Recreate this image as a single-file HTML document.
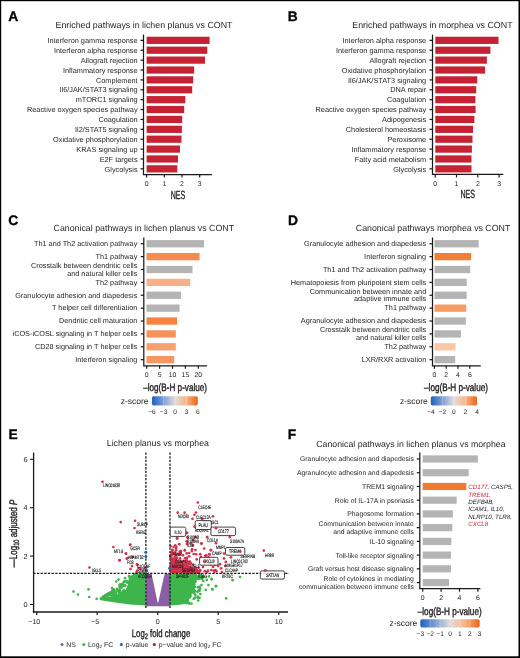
<!DOCTYPE html><html><head><meta charset="utf-8"><style>html,body{margin:0;padding:0;background:#fff;}svg{display:block;will-change:transform;} text{text-rendering:geometricPrecision;}</style></head><body>
<svg width="520" height="658" viewBox="0 0 520 658" font-family="'Liberation Sans', sans-serif">
<rect x="0.00" y="0.00" width="520.00" height="658.00" fill="#000" />
<rect x="1.20" y="1.20" width="517.30" height="655.10" fill="#fff" />
<text x="8.20" y="21.20" font-size="13.8" text-anchor="start" fill="#000" font-weight="bold" font-style="normal" stroke="#000" stroke-width="0.3">A</text>
<text x="55.50" y="28.00" font-size="8.85" text-anchor="start" fill="#231f20" font-weight="normal" font-style="normal" >Enriched pathways in lichen planus vs CONT</text>
<line x1="143.50" y1="34.60" x2="143.50" y2="174.60" stroke="#1a1a1a" stroke-width="1.25" />
<line x1="142.90" y1="174.60" x2="211.90" y2="174.60" stroke="#1a1a1a" stroke-width="1.25" />
<rect x="146.60" y="36.75" width="63.00" height="7.20" fill="#c52233" />
<line x1="140.50" y1="40.35" x2="143.50" y2="40.35" stroke="#1a1a1a" stroke-width="1.25" />
<text x="137.60" y="43.00" font-size="7.35" text-anchor="end" fill="#231f20" font-weight="normal" font-style="normal" >Interferon gamma response</text>
<rect x="146.60" y="46.63" width="60.70" height="7.20" fill="#c52233" />
<line x1="140.50" y1="50.23" x2="143.50" y2="50.23" stroke="#1a1a1a" stroke-width="1.25" />
<text x="137.60" y="52.88" font-size="7.35" text-anchor="end" fill="#231f20" font-weight="normal" font-style="normal" >Interferon alpha response</text>
<rect x="146.60" y="56.52" width="58.40" height="7.20" fill="#c52233" />
<line x1="140.50" y1="60.12" x2="143.50" y2="60.12" stroke="#1a1a1a" stroke-width="1.25" />
<text x="137.60" y="62.77" font-size="7.35" text-anchor="end" fill="#231f20" font-weight="normal" font-style="normal" >Allograft rejection</text>
<rect x="146.60" y="66.41" width="47.60" height="7.20" fill="#c52233" />
<line x1="140.50" y1="70.00" x2="143.50" y2="70.00" stroke="#1a1a1a" stroke-width="1.25" />
<text x="137.60" y="72.65" font-size="7.35" text-anchor="end" fill="#231f20" font-weight="normal" font-style="normal" >Inflammatory response</text>
<rect x="146.60" y="76.29" width="46.60" height="7.20" fill="#c52233" />
<line x1="140.50" y1="79.89" x2="143.50" y2="79.89" stroke="#1a1a1a" stroke-width="1.25" />
<text x="137.60" y="82.54" font-size="7.35" text-anchor="end" fill="#231f20" font-weight="normal" font-style="normal" >Complement</text>
<rect x="146.60" y="86.17" width="45.60" height="7.20" fill="#c52233" />
<line x1="140.50" y1="89.77" x2="143.50" y2="89.77" stroke="#1a1a1a" stroke-width="1.25" />
<text x="137.60" y="92.42" font-size="7.35" text-anchor="end" fill="#231f20" font-weight="normal" font-style="normal" >Il6/JAK/STAT3 signaling</text>
<rect x="146.60" y="96.06" width="38.70" height="7.20" fill="#c52233" />
<line x1="140.50" y1="99.66" x2="143.50" y2="99.66" stroke="#1a1a1a" stroke-width="1.25" />
<text x="137.60" y="102.31" font-size="7.35" text-anchor="end" fill="#231f20" font-weight="normal" font-style="normal" >mTORC1 signaling</text>
<rect x="146.60" y="105.94" width="37.60" height="7.20" fill="#c52233" />
<line x1="140.50" y1="109.54" x2="143.50" y2="109.54" stroke="#1a1a1a" stroke-width="1.25" />
<text x="137.60" y="112.19" font-size="7.35" text-anchor="end" fill="#231f20" font-weight="normal" font-style="normal" >Reactive oxygen species pathway</text>
<rect x="146.60" y="115.83" width="35.60" height="7.20" fill="#c52233" />
<line x1="140.50" y1="119.43" x2="143.50" y2="119.43" stroke="#1a1a1a" stroke-width="1.25" />
<text x="137.60" y="122.08" font-size="7.35" text-anchor="end" fill="#231f20" font-weight="normal" font-style="normal" >Coagulation</text>
<rect x="146.60" y="125.72" width="35.30" height="7.20" fill="#c52233" />
<line x1="140.50" y1="129.31" x2="143.50" y2="129.31" stroke="#1a1a1a" stroke-width="1.25" />
<text x="137.60" y="131.96" font-size="7.35" text-anchor="end" fill="#231f20" font-weight="normal" font-style="normal" >Il2/STAT5 signaling</text>
<rect x="146.60" y="135.60" width="34.90" height="7.20" fill="#c52233" />
<line x1="140.50" y1="139.20" x2="143.50" y2="139.20" stroke="#1a1a1a" stroke-width="1.25" />
<text x="137.60" y="141.85" font-size="7.35" text-anchor="end" fill="#231f20" font-weight="normal" font-style="normal" >Oxidative phosphorylation</text>
<rect x="146.60" y="145.49" width="33.40" height="7.20" fill="#c52233" />
<line x1="140.50" y1="149.09" x2="143.50" y2="149.09" stroke="#1a1a1a" stroke-width="1.25" />
<text x="137.60" y="151.73" font-size="7.35" text-anchor="end" fill="#231f20" font-weight="normal" font-style="normal" >KRAS signaling up</text>
<rect x="146.60" y="155.37" width="31.40" height="7.20" fill="#c52233" />
<line x1="140.50" y1="158.97" x2="143.50" y2="158.97" stroke="#1a1a1a" stroke-width="1.25" />
<text x="137.60" y="161.62" font-size="7.35" text-anchor="end" fill="#231f20" font-weight="normal" font-style="normal" >E2F targets</text>
<rect x="146.60" y="165.25" width="30.70" height="7.20" fill="#c52233" />
<line x1="140.50" y1="168.85" x2="143.50" y2="168.85" stroke="#1a1a1a" stroke-width="1.25" />
<text x="137.60" y="171.50" font-size="7.35" text-anchor="end" fill="#231f20" font-weight="normal" font-style="normal" >Glycolysis</text>
<line x1="146.60" y1="174.60" x2="146.60" y2="177.60" stroke="#1a1a1a" stroke-width="1.2" />
<text x="146.60" y="186.28" font-size="6.9" text-anchor="middle" fill="#231f20" font-weight="normal" font-style="normal" >0</text>
<line x1="164.30" y1="174.60" x2="164.30" y2="177.60" stroke="#1a1a1a" stroke-width="1.2" />
<text x="164.30" y="186.28" font-size="6.9" text-anchor="middle" fill="#231f20" font-weight="normal" font-style="normal" >1</text>
<line x1="182.00" y1="174.60" x2="182.00" y2="177.60" stroke="#1a1a1a" stroke-width="1.2" />
<text x="182.00" y="186.28" font-size="6.9" text-anchor="middle" fill="#231f20" font-weight="normal" font-style="normal" >2</text>
<line x1="199.70" y1="174.60" x2="199.70" y2="177.60" stroke="#1a1a1a" stroke-width="1.2" />
<text x="199.70" y="186.28" font-size="6.9" text-anchor="middle" fill="#231f20" font-weight="normal" font-style="normal" >3</text>
<g transform="translate(178.00,194.30) scale(0.6,1)"><text x="0" y="4.25" font-size="11.8" text-anchor="middle" fill="#231f20" font-weight="normal" stroke="#231f20" stroke-width="0.4">NES</text></g>
<text x="287.80" y="21.10" font-size="13.8" text-anchor="start" fill="#000" font-weight="bold" font-style="normal" stroke="#000" stroke-width="0.3">B</text>
<text x="352.30" y="28.00" font-size="8.85" text-anchor="start" fill="#231f20" font-weight="normal" font-style="normal" >Enriched pathways in morphea vs CONT</text>
<line x1="432.50" y1="34.60" x2="432.50" y2="174.40" stroke="#1a1a1a" stroke-width="1.25" />
<line x1="431.90" y1="174.40" x2="503.30" y2="174.40" stroke="#1a1a1a" stroke-width="1.25" />
<rect x="435.30" y="36.75" width="63.20" height="7.20" fill="#c52233" />
<line x1="429.50" y1="40.35" x2="432.50" y2="40.35" stroke="#1a1a1a" stroke-width="1.25" />
<text x="426.20" y="43.00" font-size="7.35" text-anchor="end" fill="#231f20" font-weight="normal" font-style="normal" >Interferon alpha response</text>
<rect x="435.30" y="46.63" width="55.10" height="7.20" fill="#c52233" />
<line x1="429.50" y1="50.23" x2="432.50" y2="50.23" stroke="#1a1a1a" stroke-width="1.25" />
<text x="426.20" y="52.88" font-size="7.35" text-anchor="end" fill="#231f20" font-weight="normal" font-style="normal" >Interferon gamma response</text>
<rect x="435.30" y="56.52" width="51.60" height="7.20" fill="#c52233" />
<line x1="429.50" y1="60.12" x2="432.50" y2="60.12" stroke="#1a1a1a" stroke-width="1.25" />
<text x="426.20" y="62.77" font-size="7.35" text-anchor="end" fill="#231f20" font-weight="normal" font-style="normal" >Allograft rejection</text>
<rect x="435.30" y="66.41" width="49.70" height="7.20" fill="#c52233" />
<line x1="429.50" y1="70.00" x2="432.50" y2="70.00" stroke="#1a1a1a" stroke-width="1.25" />
<text x="426.20" y="72.65" font-size="7.35" text-anchor="end" fill="#231f20" font-weight="normal" font-style="normal" >Oxidative phosphorylation</text>
<rect x="435.30" y="76.29" width="42.00" height="7.20" fill="#c52233" />
<line x1="429.50" y1="79.89" x2="432.50" y2="79.89" stroke="#1a1a1a" stroke-width="1.25" />
<text x="426.20" y="82.54" font-size="7.35" text-anchor="end" fill="#231f20" font-weight="normal" font-style="normal" >Il6/JAK/STAT3 signaling</text>
<rect x="435.30" y="86.17" width="40.90" height="7.20" fill="#c52233" />
<line x1="429.50" y1="89.77" x2="432.50" y2="89.77" stroke="#1a1a1a" stroke-width="1.25" />
<text x="426.20" y="92.42" font-size="7.35" text-anchor="end" fill="#231f20" font-weight="normal" font-style="normal" >DNA repair</text>
<rect x="435.30" y="96.06" width="40.10" height="7.20" fill="#c52233" />
<line x1="429.50" y1="99.66" x2="432.50" y2="99.66" stroke="#1a1a1a" stroke-width="1.25" />
<text x="426.20" y="102.31" font-size="7.35" text-anchor="end" fill="#231f20" font-weight="normal" font-style="normal" >Coagulation</text>
<rect x="435.30" y="105.94" width="40.30" height="7.20" fill="#c52233" />
<line x1="429.50" y1="109.54" x2="432.50" y2="109.54" stroke="#1a1a1a" stroke-width="1.25" />
<text x="426.20" y="112.19" font-size="7.35" text-anchor="end" fill="#231f20" font-weight="normal" font-style="normal" >Reactive oxygen species pathway</text>
<rect x="435.30" y="115.83" width="39.10" height="7.20" fill="#c52233" />
<line x1="429.50" y1="119.43" x2="432.50" y2="119.43" stroke="#1a1a1a" stroke-width="1.25" />
<text x="426.20" y="122.08" font-size="7.35" text-anchor="end" fill="#231f20" font-weight="normal" font-style="normal" >Adipogenesis</text>
<rect x="435.30" y="125.72" width="37.70" height="7.20" fill="#c52233" />
<line x1="429.50" y1="129.31" x2="432.50" y2="129.31" stroke="#1a1a1a" stroke-width="1.25" />
<text x="426.20" y="131.96" font-size="7.35" text-anchor="end" fill="#231f20" font-weight="normal" font-style="normal" >Cholesterol homeostasis</text>
<rect x="435.30" y="135.60" width="37.20" height="7.20" fill="#c52233" />
<line x1="429.50" y1="139.20" x2="432.50" y2="139.20" stroke="#1a1a1a" stroke-width="1.25" />
<text x="426.20" y="141.85" font-size="7.35" text-anchor="end" fill="#231f20" font-weight="normal" font-style="normal" >Peroxisome</text>
<rect x="435.30" y="145.49" width="36.60" height="7.20" fill="#c52233" />
<line x1="429.50" y1="149.09" x2="432.50" y2="149.09" stroke="#1a1a1a" stroke-width="1.25" />
<text x="426.20" y="151.73" font-size="7.35" text-anchor="end" fill="#231f20" font-weight="normal" font-style="normal" >Inflammatory response</text>
<rect x="435.30" y="155.37" width="36.20" height="7.20" fill="#c52233" />
<line x1="429.50" y1="158.97" x2="432.50" y2="158.97" stroke="#1a1a1a" stroke-width="1.25" />
<text x="426.20" y="161.62" font-size="7.35" text-anchor="end" fill="#231f20" font-weight="normal" font-style="normal" >Fatty acid metabolism</text>
<rect x="435.30" y="165.25" width="36.20" height="7.20" fill="#c52233" />
<line x1="429.50" y1="168.85" x2="432.50" y2="168.85" stroke="#1a1a1a" stroke-width="1.25" />
<text x="426.20" y="171.50" font-size="7.35" text-anchor="end" fill="#231f20" font-weight="normal" font-style="normal" >Glycolysis</text>
<line x1="435.20" y1="174.40" x2="435.20" y2="177.40" stroke="#1a1a1a" stroke-width="1.2" />
<text x="435.20" y="186.18" font-size="6.9" text-anchor="middle" fill="#231f20" font-weight="normal" font-style="normal" >0</text>
<line x1="456.50" y1="174.40" x2="456.50" y2="177.40" stroke="#1a1a1a" stroke-width="1.2" />
<text x="456.50" y="186.18" font-size="6.9" text-anchor="middle" fill="#231f20" font-weight="normal" font-style="normal" >1</text>
<line x1="477.80" y1="174.40" x2="477.80" y2="177.40" stroke="#1a1a1a" stroke-width="1.2" />
<text x="477.80" y="186.18" font-size="6.9" text-anchor="middle" fill="#231f20" font-weight="normal" font-style="normal" >2</text>
<line x1="499.10" y1="174.40" x2="499.10" y2="177.40" stroke="#1a1a1a" stroke-width="1.2" />
<text x="499.10" y="186.18" font-size="6.9" text-anchor="middle" fill="#231f20" font-weight="normal" font-style="normal" >3</text>
<g transform="translate(467.70,194.00) scale(0.6,1)"><text x="0" y="4.25" font-size="11.8" text-anchor="middle" fill="#231f20" font-weight="normal" stroke="#231f20" stroke-width="0.4">NES</text></g>
<text x="8.30" y="224.80" font-size="13.8" text-anchor="start" fill="#000" font-weight="bold" font-style="normal" stroke="#000" stroke-width="0.3">C</text>
<text x="53.60" y="231.30" font-size="8.8" text-anchor="start" fill="#231f20" font-weight="normal" font-style="normal" >Canonical pathways in lichen planus vs CONT</text>
<line x1="143.80" y1="237.50" x2="143.80" y2="365.80" stroke="#1a1a1a" stroke-width="1.25" />
<line x1="143.20" y1="365.80" x2="206.90" y2="365.80" stroke="#1a1a1a" stroke-width="1.25" />
<rect x="146.50" y="240.10" width="57.50" height="7.30" fill="#b4b4b4" />
<line x1="140.80" y1="243.75" x2="143.80" y2="243.75" stroke="#1a1a1a" stroke-width="1.25" />
<text x="137.30" y="246.08" font-size="7.3" text-anchor="end" fill="#231f20" font-weight="normal" font-style="normal" >Th1 and Th2 activation pathway</text>
<rect x="146.50" y="252.98" width="53.10" height="7.30" fill="#f58b4c" />
<line x1="140.80" y1="256.63" x2="143.80" y2="256.63" stroke="#1a1a1a" stroke-width="1.25" />
<text x="137.30" y="258.96" font-size="7.3" text-anchor="end" fill="#231f20" font-weight="normal" font-style="normal" >Th1 pathway</text>
<rect x="146.50" y="265.86" width="46.00" height="7.30" fill="#b4b4b4" />
<line x1="140.80" y1="269.51" x2="143.80" y2="269.51" stroke="#1a1a1a" stroke-width="1.25" />
<text x="137.30" y="267.89" font-size="7.3" text-anchor="end" fill="#231f20" font-weight="normal" font-style="normal" >Crosstalk between dendritic cells</text>
<text x="137.30" y="275.79" font-size="7.3" text-anchor="end" fill="#231f20" font-weight="normal" font-style="normal" >and natural killer cells</text>
<rect x="146.50" y="278.74" width="43.70" height="7.30" fill="#f9b08a" />
<line x1="140.80" y1="282.39" x2="143.80" y2="282.39" stroke="#1a1a1a" stroke-width="1.25" />
<text x="137.30" y="284.72" font-size="7.3" text-anchor="end" fill="#231f20" font-weight="normal" font-style="normal" >Th2 pathway</text>
<rect x="146.50" y="291.62" width="34.50" height="7.30" fill="#b4b4b4" />
<line x1="140.80" y1="295.27" x2="143.80" y2="295.27" stroke="#1a1a1a" stroke-width="1.25" />
<text x="137.30" y="297.60" font-size="7.3" text-anchor="end" fill="#231f20" font-weight="normal" font-style="normal" >Granulocyte adhesion and diapedesis</text>
<rect x="146.50" y="304.50" width="33.10" height="7.30" fill="#b4b4b4" />
<line x1="140.80" y1="308.15" x2="143.80" y2="308.15" stroke="#1a1a1a" stroke-width="1.25" />
<text x="137.30" y="310.48" font-size="7.3" text-anchor="end" fill="#231f20" font-weight="normal" font-style="normal" >T helper cell differentiation</text>
<rect x="146.50" y="317.38" width="30.60" height="7.30" fill="#f5823e" />
<line x1="140.80" y1="321.03" x2="143.80" y2="321.03" stroke="#1a1a1a" stroke-width="1.25" />
<text x="137.30" y="323.36" font-size="7.3" text-anchor="end" fill="#231f20" font-weight="normal" font-style="normal" >Dendritic cell maturation</text>
<rect x="146.50" y="330.26" width="29.30" height="7.30" fill="#f6925a" />
<line x1="140.80" y1="333.91" x2="143.80" y2="333.91" stroke="#1a1a1a" stroke-width="1.25" />
<text x="137.30" y="336.24" font-size="7.3" text-anchor="end" fill="#231f20" font-weight="normal" font-style="normal" >iCOS-iCOSL signaling in T helper cells</text>
<rect x="146.50" y="343.14" width="29.30" height="7.30" fill="#f7a070" />
<line x1="140.80" y1="346.79" x2="143.80" y2="346.79" stroke="#1a1a1a" stroke-width="1.25" />
<text x="137.30" y="349.12" font-size="7.3" text-anchor="end" fill="#231f20" font-weight="normal" font-style="normal" >CD28 signaling in T helper cells</text>
<rect x="146.50" y="356.02" width="27.70" height="7.30" fill="#f69660" />
<line x1="140.80" y1="359.67" x2="143.80" y2="359.67" stroke="#1a1a1a" stroke-width="1.25" />
<text x="137.30" y="362.00" font-size="7.3" text-anchor="end" fill="#231f20" font-weight="normal" font-style="normal" >Interferon signaling</text>
<line x1="146.70" y1="365.80" x2="146.70" y2="368.80" stroke="#1a1a1a" stroke-width="1.2" />
<text x="146.70" y="377.48" font-size="6.9" text-anchor="middle" fill="#231f20" font-weight="normal" font-style="normal" >0</text>
<line x1="159.60" y1="365.80" x2="159.60" y2="368.80" stroke="#1a1a1a" stroke-width="1.2" />
<text x="159.60" y="377.48" font-size="6.9" text-anchor="middle" fill="#231f20" font-weight="normal" font-style="normal" >5</text>
<line x1="172.50" y1="365.80" x2="172.50" y2="368.80" stroke="#1a1a1a" stroke-width="1.2" />
<text x="172.50" y="377.48" font-size="6.9" text-anchor="middle" fill="#231f20" font-weight="normal" font-style="normal" >10</text>
<line x1="185.40" y1="365.80" x2="185.40" y2="368.80" stroke="#1a1a1a" stroke-width="1.2" />
<text x="185.40" y="377.48" font-size="6.9" text-anchor="middle" fill="#231f20" font-weight="normal" font-style="normal" >15</text>
<line x1="198.30" y1="365.80" x2="198.30" y2="368.80" stroke="#1a1a1a" stroke-width="1.2" />
<text x="198.30" y="377.48" font-size="6.9" text-anchor="middle" fill="#231f20" font-weight="normal" font-style="normal" >20</text>
<g transform="translate(175.10,387.50) scale(0.755,1)"><text x="0" y="3.89" font-size="10.8" text-anchor="middle" fill="#231f20" font-weight="normal" stroke="#231f20" stroke-width="0.4">–log(B-H p-value)</text></g>
<defs><linearGradient id="g152_396" x1="0" x2="1" y1="0" y2="0"><stop offset="0" stop-color="#1f62bf"/><stop offset="0.25" stop-color="#7f9fd4"/><stop offset="0.5" stop-color="#e2dcdc"/><stop offset="0.75" stop-color="#f7b48c"/><stop offset="1" stop-color="#ec6512"/></linearGradient></defs>
<rect x="152.00" y="396.20" width="45.80" height="9.20" rx="1.6" fill="url(#g152_396)"/>
<line x1="163.60" y1="396.20" x2="163.60" y2="405.40" stroke="#ffffff" stroke-width="0.6" stroke-opacity="0.45"/>
<line x1="175.20" y1="396.20" x2="175.20" y2="405.40" stroke="#ffffff" stroke-width="0.6" stroke-opacity="0.45"/>
<line x1="186.60" y1="396.20" x2="186.60" y2="405.40" stroke="#ffffff" stroke-width="0.6" stroke-opacity="0.45"/>
<text x="148.50" y="404.26" font-size="8.5" text-anchor="end" fill="#231f20" font-weight="normal" font-style="normal" >z-score</text>
<text x="152.00" y="413.98" font-size="6.6" text-anchor="middle" fill="#231f20" font-weight="normal" font-style="normal" >−6</text>
<text x="163.60" y="413.98" font-size="6.6" text-anchor="middle" fill="#231f20" font-weight="normal" font-style="normal" >−3</text>
<text x="175.20" y="413.98" font-size="6.6" text-anchor="middle" fill="#231f20" font-weight="normal" font-style="normal" >0</text>
<text x="186.60" y="413.98" font-size="6.6" text-anchor="middle" fill="#231f20" font-weight="normal" font-style="normal" >3</text>
<text x="197.80" y="413.98" font-size="6.6" text-anchor="middle" fill="#231f20" font-weight="normal" font-style="normal" >6</text>
<text x="287.90" y="224.50" font-size="13.8" text-anchor="start" fill="#000" font-weight="bold" font-style="normal" stroke="#000" stroke-width="0.3">D</text>
<text x="355.80" y="231.30" font-size="8.8" text-anchor="start" fill="#231f20" font-weight="normal" font-style="normal" >Canonical pathways morphea vs CONT</text>
<line x1="432.50" y1="237.50" x2="432.50" y2="365.80" stroke="#1a1a1a" stroke-width="1.25" />
<line x1="431.90" y1="365.80" x2="480.80" y2="365.80" stroke="#1a1a1a" stroke-width="1.25" />
<rect x="434.50" y="240.10" width="44.20" height="7.30" fill="#b4b4b4" />
<line x1="429.50" y1="243.75" x2="432.50" y2="243.75" stroke="#1a1a1a" stroke-width="1.25" />
<text x="426.20" y="246.08" font-size="7.3" text-anchor="end" fill="#231f20" font-weight="normal" font-style="normal" >Granulocyte adhesion and diapedesis</text>
<rect x="434.50" y="252.98" width="36.70" height="7.30" fill="#f07f38" />
<line x1="429.50" y1="256.63" x2="432.50" y2="256.63" stroke="#1a1a1a" stroke-width="1.25" />
<text x="426.20" y="258.96" font-size="7.3" text-anchor="end" fill="#231f20" font-weight="normal" font-style="normal" >Interferon signaling</text>
<rect x="434.50" y="265.86" width="35.70" height="7.30" fill="#b4b4b4" />
<line x1="429.50" y1="269.51" x2="432.50" y2="269.51" stroke="#1a1a1a" stroke-width="1.25" />
<text x="426.20" y="271.84" font-size="7.3" text-anchor="end" fill="#231f20" font-weight="normal" font-style="normal" >Th1 and Th2 activation pathway</text>
<rect x="434.50" y="278.74" width="32.20" height="7.30" fill="#b4b4b4" />
<line x1="429.50" y1="282.39" x2="432.50" y2="282.39" stroke="#1a1a1a" stroke-width="1.25" />
<text x="426.20" y="284.72" font-size="7.3" text-anchor="end" fill="#231f20" font-weight="normal" font-style="normal" >Hematopoiesis from pluripotent stem cells</text>
<rect x="434.50" y="291.62" width="32.20" height="7.30" fill="#b4b4b4" />
<line x1="429.50" y1="295.27" x2="432.50" y2="295.27" stroke="#1a1a1a" stroke-width="1.25" />
<text x="426.20" y="293.80" font-size="7.3" text-anchor="end" fill="#231f20" font-weight="normal" font-style="normal" >Communication between innate and</text>
<text x="426.20" y="301.40" font-size="7.3" text-anchor="end" fill="#231f20" font-weight="normal" font-style="normal" >adaptive immune cells</text>
<rect x="434.50" y="304.50" width="31.70" height="7.30" fill="#f59c64" />
<line x1="429.50" y1="308.15" x2="432.50" y2="308.15" stroke="#1a1a1a" stroke-width="1.25" />
<text x="426.20" y="310.48" font-size="7.3" text-anchor="end" fill="#231f20" font-weight="normal" font-style="normal" >Th1 pathway</text>
<rect x="434.50" y="317.38" width="31.30" height="7.30" fill="#b4b4b4" />
<line x1="429.50" y1="321.03" x2="432.50" y2="321.03" stroke="#1a1a1a" stroke-width="1.25" />
<text x="426.20" y="323.36" font-size="7.3" text-anchor="end" fill="#231f20" font-weight="normal" font-style="normal" >Agranulocyte adhesion and diapedesis</text>
<rect x="434.50" y="330.26" width="26.50" height="7.30" fill="#b4b4b4" />
<line x1="429.50" y1="333.91" x2="432.50" y2="333.91" stroke="#1a1a1a" stroke-width="1.25" />
<text x="426.20" y="332.44" font-size="7.3" text-anchor="end" fill="#231f20" font-weight="normal" font-style="normal" >Crosstalk between dendritic cells</text>
<text x="426.20" y="340.04" font-size="7.3" text-anchor="end" fill="#231f20" font-weight="normal" font-style="normal" >and natural killer cells</text>
<rect x="434.50" y="343.14" width="21.10" height="7.30" fill="#fbc6a6" />
<line x1="429.50" y1="346.79" x2="432.50" y2="346.79" stroke="#1a1a1a" stroke-width="1.25" />
<text x="426.20" y="349.12" font-size="7.3" text-anchor="end" fill="#231f20" font-weight="normal" font-style="normal" >Th2 pathway</text>
<rect x="434.50" y="356.02" width="20.70" height="7.30" fill="#b4b4b4" />
<line x1="429.50" y1="359.67" x2="432.50" y2="359.67" stroke="#1a1a1a" stroke-width="1.25" />
<text x="426.20" y="362.00" font-size="7.3" text-anchor="end" fill="#231f20" font-weight="normal" font-style="normal" >LXR/RXR activation</text>
<line x1="434.40" y1="365.80" x2="434.40" y2="368.80" stroke="#1a1a1a" stroke-width="1.2" />
<text x="434.40" y="377.48" font-size="6.9" text-anchor="middle" fill="#231f20" font-weight="normal" font-style="normal" >0</text>
<line x1="446.20" y1="365.80" x2="446.20" y2="368.80" stroke="#1a1a1a" stroke-width="1.2" />
<text x="446.20" y="377.48" font-size="6.9" text-anchor="middle" fill="#231f20" font-weight="normal" font-style="normal" >2</text>
<line x1="458.00" y1="365.80" x2="458.00" y2="368.80" stroke="#1a1a1a" stroke-width="1.2" />
<text x="458.00" y="377.48" font-size="6.9" text-anchor="middle" fill="#231f20" font-weight="normal" font-style="normal" >4</text>
<line x1="469.80" y1="365.80" x2="469.80" y2="368.80" stroke="#1a1a1a" stroke-width="1.2" />
<text x="469.80" y="377.48" font-size="6.9" text-anchor="middle" fill="#231f20" font-weight="normal" font-style="normal" >6</text>
<g transform="translate(456.00,387.50) scale(0.755,1)"><text x="0" y="3.89" font-size="10.8" text-anchor="middle" fill="#231f20" font-weight="normal" stroke="#231f20" stroke-width="0.4">–log(B-H p-value)</text></g>
<defs><linearGradient id="g430_396" x1="0" x2="1" y1="0" y2="0"><stop offset="0" stop-color="#1f62bf"/><stop offset="0.25" stop-color="#7f9fd4"/><stop offset="0.5" stop-color="#e2dcdc"/><stop offset="0.75" stop-color="#f7b48c"/><stop offset="1" stop-color="#ec6512"/></linearGradient></defs>
<rect x="430.80" y="396.20" width="46.20" height="9.20" rx="1.6" fill="url(#g430_396)"/>
<line x1="442.35" y1="396.20" x2="442.35" y2="405.40" stroke="#ffffff" stroke-width="0.6" stroke-opacity="0.45"/>
<line x1="453.90" y1="396.20" x2="453.90" y2="405.40" stroke="#ffffff" stroke-width="0.6" stroke-opacity="0.45"/>
<line x1="465.45" y1="396.20" x2="465.45" y2="405.40" stroke="#ffffff" stroke-width="0.6" stroke-opacity="0.45"/>
<text x="427.80" y="404.26" font-size="8.5" text-anchor="end" fill="#231f20" font-weight="normal" font-style="normal" >z-score</text>
<text x="430.80" y="413.98" font-size="6.6" text-anchor="middle" fill="#231f20" font-weight="normal" font-style="normal" >−4</text>
<text x="442.35" y="413.98" font-size="6.6" text-anchor="middle" fill="#231f20" font-weight="normal" font-style="normal" >−2</text>
<text x="453.90" y="413.98" font-size="6.6" text-anchor="middle" fill="#231f20" font-weight="normal" font-style="normal" >0</text>
<text x="465.45" y="413.98" font-size="6.6" text-anchor="middle" fill="#231f20" font-weight="normal" font-style="normal" >2</text>
<text x="477.00" y="413.98" font-size="6.6" text-anchor="middle" fill="#231f20" font-weight="normal" font-style="normal" >4</text>
<text x="287.80" y="439.20" font-size="13.8" text-anchor="start" fill="#000" font-weight="bold" font-style="normal" stroke="#000" stroke-width="0.3">F</text>
<text x="316.30" y="446.60" font-size="8.75" text-anchor="start" fill="#231f20" font-weight="normal" font-style="normal" >Canonical pathways in lichen planus vs morphea</text>
<line x1="419.80" y1="452.50" x2="419.80" y2="588.70" stroke="#1a1a1a" stroke-width="1.25" />
<line x1="419.20" y1="588.70" x2="480.40" y2="588.70" stroke="#1a1a1a" stroke-width="1.25" />
<rect x="422.70" y="455.40" width="55.20" height="7.20" fill="#b4b4b4" />
<line x1="416.80" y1="459.00" x2="419.80" y2="459.00" stroke="#1a1a1a" stroke-width="1.25" />
<text x="413.80" y="461.45" font-size="6.8" text-anchor="end" fill="#231f20" font-weight="normal" font-style="normal" >Granulocyte adhesion and diapedesis</text>
<rect x="422.70" y="469.13" width="46.00" height="7.20" fill="#b4b4b4" />
<line x1="416.80" y1="472.73" x2="419.80" y2="472.73" stroke="#1a1a1a" stroke-width="1.25" />
<text x="413.80" y="475.18" font-size="6.8" text-anchor="end" fill="#231f20" font-weight="normal" font-style="normal" >Agranulocyte adhesion and diapedesis</text>
<rect x="422.70" y="482.86" width="43.60" height="7.20" fill="#f07a30" />
<line x1="416.80" y1="486.46" x2="419.80" y2="486.46" stroke="#1a1a1a" stroke-width="1.25" />
<text x="413.80" y="488.91" font-size="6.8" text-anchor="end" fill="#231f20" font-weight="normal" font-style="normal" >TREM1 signaling</text>
<rect x="422.70" y="496.59" width="34.00" height="7.20" fill="#b4b4b4" />
<line x1="416.80" y1="500.19" x2="419.80" y2="500.19" stroke="#1a1a1a" stroke-width="1.25" />
<text x="413.80" y="502.64" font-size="6.8" text-anchor="end" fill="#231f20" font-weight="normal" font-style="normal" >Role of IL-17A in psoriasis</text>
<rect x="422.70" y="510.32" width="30.20" height="7.20" fill="#b4b4b4" />
<line x1="416.80" y1="513.92" x2="419.80" y2="513.92" stroke="#1a1a1a" stroke-width="1.25" />
<text x="413.80" y="516.37" font-size="6.8" text-anchor="end" fill="#231f20" font-weight="normal" font-style="normal" >Phagosome formation</text>
<rect x="422.70" y="524.05" width="29.60" height="7.20" fill="#b4b4b4" />
<line x1="416.80" y1="527.65" x2="419.80" y2="527.65" stroke="#1a1a1a" stroke-width="1.25" />
<text x="413.80" y="526.22" font-size="6.8" text-anchor="end" fill="#231f20" font-weight="normal" font-style="normal" >Communication between innate</text>
<text x="413.80" y="533.97" font-size="6.8" text-anchor="end" fill="#231f20" font-weight="normal" font-style="normal" >and adaptive immune cells</text>
<rect x="422.70" y="537.78" width="28.60" height="7.20" fill="#b4b4b4" />
<line x1="416.80" y1="541.38" x2="419.80" y2="541.38" stroke="#1a1a1a" stroke-width="1.25" />
<text x="413.80" y="543.83" font-size="6.8" text-anchor="end" fill="#231f20" font-weight="normal" font-style="normal" >IL-10 signaling</text>
<rect x="422.70" y="551.51" width="28.30" height="7.20" fill="#b4b4b4" />
<line x1="416.80" y1="555.11" x2="419.80" y2="555.11" stroke="#1a1a1a" stroke-width="1.25" />
<text x="413.80" y="557.56" font-size="6.8" text-anchor="end" fill="#231f20" font-weight="normal" font-style="normal" >Toll-like receptor signaling</text>
<rect x="422.70" y="565.24" width="28.30" height="7.20" fill="#b4b4b4" />
<line x1="416.80" y1="568.84" x2="419.80" y2="568.84" stroke="#1a1a1a" stroke-width="1.25" />
<text x="413.80" y="571.29" font-size="6.8" text-anchor="end" fill="#231f20" font-weight="normal" font-style="normal" >Graft versus host disease signaling</text>
<rect x="422.70" y="578.97" width="26.30" height="7.20" fill="#b4b4b4" />
<line x1="416.80" y1="582.57" x2="419.80" y2="582.57" stroke="#1a1a1a" stroke-width="1.25" />
<text x="413.80" y="581.14" font-size="6.8" text-anchor="end" fill="#231f20" font-weight="normal" font-style="normal" >Role of cytokines in mediating</text>
<text x="413.80" y="588.89" font-size="6.8" text-anchor="end" fill="#231f20" font-weight="normal" font-style="normal" >communication between immune cells</text>
<line x1="422.70" y1="588.70" x2="422.70" y2="591.70" stroke="#1a1a1a" stroke-width="1.2" />
<text x="422.70" y="600.18" font-size="6.9" text-anchor="middle" fill="#231f20" font-weight="normal" font-style="normal" >0</text>
<line x1="441.10" y1="588.70" x2="441.10" y2="591.70" stroke="#1a1a1a" stroke-width="1.2" />
<text x="441.10" y="600.18" font-size="6.9" text-anchor="middle" fill="#231f20" font-weight="normal" font-style="normal" >2</text>
<line x1="459.50" y1="588.70" x2="459.50" y2="591.70" stroke="#1a1a1a" stroke-width="1.2" />
<text x="459.50" y="600.18" font-size="6.9" text-anchor="middle" fill="#231f20" font-weight="normal" font-style="normal" >4</text>
<line x1="477.90" y1="588.70" x2="477.90" y2="591.70" stroke="#1a1a1a" stroke-width="1.2" />
<text x="477.90" y="600.18" font-size="6.9" text-anchor="middle" fill="#231f20" font-weight="normal" font-style="normal" >6</text>
<g transform="translate(449.70,610.80) scale(0.755,1)"><text x="0" y="3.89" font-size="10.8" text-anchor="middle" fill="#231f20" font-weight="normal" stroke="#231f20" stroke-width="0.4">–log(B-H p-value)</text></g>
<defs><linearGradient id="g420_619" x1="0" x2="1" y1="0" y2="0"><stop offset="0" stop-color="#1f62bf"/><stop offset="0.25" stop-color="#7f9fd4"/><stop offset="0.5" stop-color="#e2dcdc"/><stop offset="0.75" stop-color="#f7b48c"/><stop offset="1" stop-color="#ec6512"/></linearGradient></defs>
<rect x="420.30" y="619.30" width="59.40" height="8.10" rx="1.6" fill="url(#g420_619)"/>
<line x1="430.20" y1="619.30" x2="430.20" y2="627.40" stroke="#ffffff" stroke-width="0.6" stroke-opacity="0.45"/>
<line x1="440.10" y1="619.30" x2="440.10" y2="627.40" stroke="#ffffff" stroke-width="0.6" stroke-opacity="0.45"/>
<line x1="450.00" y1="619.30" x2="450.00" y2="627.40" stroke="#ffffff" stroke-width="0.6" stroke-opacity="0.45"/>
<line x1="459.90" y1="619.30" x2="459.90" y2="627.40" stroke="#ffffff" stroke-width="0.6" stroke-opacity="0.45"/>
<line x1="469.80" y1="619.30" x2="469.80" y2="627.40" stroke="#ffffff" stroke-width="0.6" stroke-opacity="0.45"/>
<text x="417.30" y="626.06" font-size="8.5" text-anchor="end" fill="#231f20" font-weight="normal" font-style="normal" >z-score</text>
<text x="420.30" y="635.58" font-size="6.6" text-anchor="middle" fill="#231f20" font-weight="normal" font-style="normal" >−3</text>
<text x="430.20" y="635.58" font-size="6.6" text-anchor="middle" fill="#231f20" font-weight="normal" font-style="normal" >−2</text>
<text x="440.10" y="635.58" font-size="6.6" text-anchor="middle" fill="#231f20" font-weight="normal" font-style="normal" >−1</text>
<text x="450.00" y="635.58" font-size="6.6" text-anchor="middle" fill="#231f20" font-weight="normal" font-style="normal" >0</text>
<text x="459.90" y="635.58" font-size="6.6" text-anchor="middle" fill="#231f20" font-weight="normal" font-style="normal" >1</text>
<text x="469.80" y="635.58" font-size="6.6" text-anchor="middle" fill="#231f20" font-weight="normal" font-style="normal" >2</text>
<text x="479.70" y="635.58" font-size="6.6" text-anchor="middle" fill="#231f20" font-weight="normal" font-style="normal" >3</text>
<text x="468.3" y="488.80" font-size="6.2" font-style="italic"><tspan fill="#c8243a">CD177</tspan><tspan fill="#231f20">, CASP5,</tspan></text>
<text x="468.3" y="496.50" font-size="6.2" font-style="italic"><tspan fill="#c8243a">TREM1,</tspan></text>
<text x="468.3" y="504.30" font-size="6.2" font-style="italic"><tspan fill="#231f20">DEFB4B,</tspan></text>
<text x="468.3" y="511.10" font-size="6.2" font-style="italic"><tspan fill="#231f20">ICAM1, IL10,</tspan></text>
<text x="468.3" y="518.60" font-size="6.2" font-style="italic"><tspan fill="#231f20">NLRP10, TLR8,</tspan></text>
<text x="468.3" y="526.30" font-size="6.2" font-style="italic"><tspan fill="#c8243a">CXCL8</tspan></text>
<text x="8.60" y="438.50" font-size="13.8" text-anchor="start" fill="#000" font-weight="bold" font-style="normal" stroke="#000" stroke-width="0.3">E</text>
<text x="106.80" y="445.90" font-size="8.75" text-anchor="start" fill="#231f20" font-weight="normal" font-style="normal" >Lichen planus vs morphea</text>
<polygon points="145.5,573.6 134,573.8 130.5,577 128,584 125.5,590 118,594 110,596.5 103,598.5 101,600.2 115,602.5 130,604.5 145.5,605.6" fill="#3db54a"/>
<polygon points="170,573.6 196,573.6 197.5,576.5 195,582 192.5,589 190,596 188,603.5 178,605 170,605.6" fill="#3db54a"/>
<path d="M145.5,573.8 L170,573.8 L170,606.2 L145.5,606.2 Z M151.4,573.8 L164.8,573.8 L162.5,583 L158.3,602.6 L157.6,602.6 L153.5,583 Z" fill="#8c5ea6" fill-rule="evenodd"/>
<polygon points="170.5,557 176,559 183,562 190,566 195,569.5 197,573 170.5,573" fill="#d6304e"/>
<circle cx="112.3" cy="590.8" r="1.35" fill="#3db54a"/><circle cx="123.8" cy="582.2" r="1.35" fill="#3db54a"/><circle cx="119.8" cy="587.7" r="1.35" fill="#3db54a"/><circle cx="103.0" cy="597.7" r="1.35" fill="#3db54a"/><circle cx="102.3" cy="598.0" r="1.35" fill="#3db54a"/><circle cx="103.4" cy="596.8" r="1.35" fill="#3db54a"/><circle cx="115.9" cy="593.3" r="1.35" fill="#3db54a"/><circle cx="105.3" cy="595.8" r="1.35" fill="#3db54a"/><circle cx="123.0" cy="591.9" r="1.35" fill="#3db54a"/><circle cx="121.2" cy="587.2" r="1.35" fill="#3db54a"/><circle cx="135.2" cy="574.3" r="1.35" fill="#3db54a"/><circle cx="131.0" cy="577.2" r="1.35" fill="#3db54a"/><circle cx="106.0" cy="595.0" r="1.35" fill="#3db54a"/><circle cx="111.8" cy="594.8" r="1.35" fill="#3db54a"/><circle cx="107.3" cy="595.7" r="1.35" fill="#3db54a"/><circle cx="123.4" cy="585.7" r="1.35" fill="#3db54a"/><circle cx="120.2" cy="584.7" r="1.35" fill="#3db54a"/><circle cx="103.1" cy="597.2" r="1.35" fill="#3db54a"/><circle cx="124.8" cy="585.4" r="1.35" fill="#3db54a"/><circle cx="112.0" cy="593.4" r="1.35" fill="#3db54a"/><circle cx="116.9" cy="588.9" r="1.35" fill="#3db54a"/><circle cx="128.8" cy="582.0" r="1.35" fill="#3db54a"/><circle cx="109.5" cy="594.6" r="1.35" fill="#3db54a"/><circle cx="119.4" cy="592.4" r="1.35" fill="#3db54a"/><circle cx="126.5" cy="581.7" r="1.35" fill="#3db54a"/><circle cx="135.3" cy="574.4" r="1.35" fill="#3db54a"/><circle cx="115.6" cy="592.9" r="1.35" fill="#3db54a"/><circle cx="106.3" cy="595.9" r="1.35" fill="#3db54a"/><circle cx="102.4" cy="598.2" r="1.35" fill="#3db54a"/><circle cx="127.8" cy="582.5" r="1.35" fill="#3db54a"/><circle cx="131.6" cy="576.7" r="1.35" fill="#3db54a"/><circle cx="125.3" cy="585.7" r="1.35" fill="#3db54a"/><circle cx="121.3" cy="587.7" r="1.35" fill="#3db54a"/><circle cx="130.4" cy="581.1" r="1.35" fill="#3db54a"/><circle cx="117.6" cy="591.3" r="1.35" fill="#3db54a"/><circle cx="103.1" cy="597.9" r="1.35" fill="#3db54a"/><circle cx="123.6" cy="592.1" r="1.35" fill="#3db54a"/><circle cx="129.8" cy="578.5" r="1.35" fill="#3db54a"/><circle cx="114.5" cy="592.8" r="1.35" fill="#3db54a"/><circle cx="101.8" cy="598.4" r="1.35" fill="#3db54a"/><circle cx="106.9" cy="594.5" r="1.35" fill="#3db54a"/><circle cx="103.1" cy="598.0" r="1.35" fill="#3db54a"/><circle cx="105.5" cy="595.7" r="1.35" fill="#3db54a"/><circle cx="114.7" cy="594.0" r="1.35" fill="#3db54a"/><circle cx="103.8" cy="597.2" r="1.35" fill="#3db54a"/><circle cx="120.2" cy="592.2" r="1.35" fill="#3db54a"/><circle cx="129.7" cy="581.8" r="1.35" fill="#3db54a"/><circle cx="110.7" cy="593.2" r="1.35" fill="#3db54a"/><circle cx="113.6" cy="594.5" r="1.35" fill="#3db54a"/><circle cx="134.5" cy="574.5" r="1.35" fill="#3db54a"/><circle cx="107.2" cy="594.6" r="1.35" fill="#3db54a"/><circle cx="109.2" cy="594.4" r="1.35" fill="#3db54a"/><circle cx="121.6" cy="585.6" r="1.35" fill="#3db54a"/><circle cx="101.1" cy="598.8" r="1.35" fill="#3db54a"/><circle cx="113.9" cy="592.4" r="1.35" fill="#3db54a"/><circle cx="134.4" cy="575.0" r="1.35" fill="#3db54a"/><circle cx="119.0" cy="590.3" r="1.35" fill="#3db54a"/><circle cx="124.7" cy="581.4" r="1.35" fill="#3db54a"/><circle cx="132.5" cy="577.3" r="1.35" fill="#3db54a"/><circle cx="131.6" cy="578.6" r="1.35" fill="#3db54a"/><circle cx="114.7" cy="590.9" r="1.35" fill="#3db54a"/><circle cx="104.6" cy="597.1" r="1.35" fill="#3db54a"/><circle cx="103.2" cy="597.0" r="1.35" fill="#3db54a"/><circle cx="108.3" cy="593.6" r="1.35" fill="#3db54a"/><circle cx="112.9" cy="589.9" r="1.35" fill="#3db54a"/><circle cx="101.0" cy="598.6" r="1.35" fill="#3db54a"/><circle cx="104.6" cy="596.6" r="1.35" fill="#3db54a"/><circle cx="101.9" cy="598.7" r="1.35" fill="#3db54a"/><circle cx="122.5" cy="583.9" r="1.35" fill="#3db54a"/><circle cx="109.8" cy="593.4" r="1.35" fill="#3db54a"/><circle cx="113.7" cy="589.7" r="1.35" fill="#3db54a"/><circle cx="130.7" cy="580.8" r="1.35" fill="#3db54a"/><circle cx="117.3" cy="590.1" r="1.35" fill="#3db54a"/><circle cx="104.0" cy="596.4" r="1.35" fill="#3db54a"/><circle cx="113.0" cy="591.1" r="1.35" fill="#3db54a"/><circle cx="130.0" cy="577.6" r="1.35" fill="#3db54a"/><circle cx="101.8" cy="598.8" r="1.35" fill="#3db54a"/><circle cx="119.5" cy="585.9" r="1.35" fill="#3db54a"/><circle cx="120.0" cy="584.5" r="1.35" fill="#3db54a"/><circle cx="119.5" cy="593.3" r="1.35" fill="#3db54a"/><circle cx="131.2" cy="578.8" r="1.35" fill="#3db54a"/><circle cx="110.1" cy="593.3" r="1.35" fill="#3db54a"/><circle cx="106.8" cy="596.5" r="1.35" fill="#3db54a"/><circle cx="119.6" cy="591.4" r="1.35" fill="#3db54a"/><circle cx="112.5" cy="591.1" r="1.35" fill="#3db54a"/><circle cx="129.4" cy="582.9" r="1.35" fill="#3db54a"/><circle cx="130.8" cy="579.8" r="1.35" fill="#3db54a"/><circle cx="129.6" cy="581.1" r="1.35" fill="#3db54a"/><circle cx="108.9" cy="594.7" r="1.35" fill="#3db54a"/><circle cx="113.4" cy="589.3" r="1.35" fill="#3db54a"/><circle cx="102.0" cy="598.0" r="1.35" fill="#3db54a"/><circle cx="110.1" cy="594.9" r="1.35" fill="#3db54a"/><circle cx="134.5" cy="574.7" r="1.35" fill="#3db54a"/><circle cx="133.8" cy="575.9" r="1.35" fill="#3db54a"/><circle cx="134.4" cy="574.7" r="1.35" fill="#3db54a"/><circle cx="108.7" cy="593.6" r="1.35" fill="#3db54a"/><circle cx="107.9" cy="594.1" r="1.35" fill="#3db54a"/><circle cx="122.8" cy="591.4" r="1.35" fill="#3db54a"/><circle cx="130.4" cy="578.8" r="1.35" fill="#3db54a"/><circle cx="123.9" cy="590.0" r="1.35" fill="#3db54a"/><circle cx="104.0" cy="597.5" r="1.35" fill="#3db54a"/><circle cx="132.8" cy="576.8" r="1.35" fill="#3db54a"/><circle cx="127.3" cy="582.4" r="1.35" fill="#3db54a"/><circle cx="107.2" cy="596.4" r="1.35" fill="#3db54a"/><circle cx="112.6" cy="594.4" r="1.35" fill="#3db54a"/><circle cx="135.0" cy="574.7" r="1.35" fill="#3db54a"/><circle cx="115.0" cy="594.4" r="1.35" fill="#3db54a"/><circle cx="126.4" cy="580.9" r="1.35" fill="#3db54a"/><circle cx="105.4" cy="595.5" r="1.35" fill="#3db54a"/><circle cx="132.7" cy="577.2" r="1.35" fill="#3db54a"/><circle cx="199.5" cy="578.8" r="1.35" fill="#3db54a"/><circle cx="189.0" cy="603.4" r="1.35" fill="#3db54a"/><circle cx="194.2" cy="584.8" r="1.35" fill="#3db54a"/><circle cx="193.6" cy="578.4" r="1.35" fill="#3db54a"/><circle cx="189.1" cy="603.1" r="1.35" fill="#3db54a"/><circle cx="199.2" cy="590.0" r="1.35" fill="#3db54a"/><circle cx="197.8" cy="587.3" r="1.35" fill="#3db54a"/><circle cx="187.6" cy="598.9" r="1.35" fill="#3db54a"/><circle cx="193.6" cy="581.9" r="1.35" fill="#3db54a"/><circle cx="195.6" cy="581.6" r="1.35" fill="#3db54a"/><circle cx="194.2" cy="582.2" r="1.35" fill="#3db54a"/><circle cx="202.0" cy="578.4" r="1.35" fill="#3db54a"/><circle cx="193.5" cy="584.9" r="1.35" fill="#3db54a"/><circle cx="197.4" cy="591.7" r="1.35" fill="#3db54a"/><circle cx="199.5" cy="586.9" r="1.35" fill="#3db54a"/><circle cx="192.6" cy="589.3" r="1.35" fill="#3db54a"/><circle cx="189.8" cy="589.9" r="1.35" fill="#3db54a"/><circle cx="191.3" cy="587.5" r="1.35" fill="#3db54a"/><circle cx="200.4" cy="574.6" r="1.35" fill="#3db54a"/><circle cx="195.4" cy="579.6" r="1.35" fill="#3db54a"/><circle cx="190.6" cy="595.9" r="1.35" fill="#3db54a"/><circle cx="194.2" cy="584.1" r="1.35" fill="#3db54a"/><circle cx="194.8" cy="590.9" r="1.35" fill="#3db54a"/><circle cx="196.7" cy="577.6" r="1.35" fill="#3db54a"/><circle cx="193.6" cy="581.8" r="1.35" fill="#3db54a"/><circle cx="189.8" cy="597.3" r="1.35" fill="#3db54a"/><circle cx="194.4" cy="591.1" r="1.35" fill="#3db54a"/><circle cx="188.0" cy="601.4" r="1.35" fill="#3db54a"/><circle cx="191.3" cy="592.6" r="1.35" fill="#3db54a"/><circle cx="194.0" cy="589.6" r="1.35" fill="#3db54a"/><circle cx="193.1" cy="587.8" r="1.35" fill="#3db54a"/><circle cx="200.1" cy="588.6" r="1.35" fill="#3db54a"/><circle cx="195.3" cy="595.1" r="1.35" fill="#3db54a"/><circle cx="186.7" cy="602.3" r="1.35" fill="#3db54a"/><circle cx="199.4" cy="591.0" r="1.35" fill="#3db54a"/><circle cx="187.2" cy="599.3" r="1.35" fill="#3db54a"/><circle cx="195.7" cy="578.1" r="1.35" fill="#3db54a"/><circle cx="195.1" cy="576.6" r="1.35" fill="#3db54a"/><circle cx="198.0" cy="576.7" r="1.35" fill="#3db54a"/><circle cx="195.2" cy="597.6" r="1.35" fill="#3db54a"/><circle cx="197.7" cy="579.1" r="1.35" fill="#3db54a"/><circle cx="188.9" cy="594.0" r="1.35" fill="#3db54a"/><circle cx="198.2" cy="600.5" r="1.35" fill="#3db54a"/><circle cx="203.4" cy="581.0" r="1.35" fill="#3db54a"/><circle cx="193.3" cy="586.2" r="1.35" fill="#3db54a"/><circle cx="191.5" cy="603.7" r="1.35" fill="#3db54a"/><circle cx="195.2" cy="579.3" r="1.35" fill="#3db54a"/><circle cx="191.3" cy="589.7" r="1.35" fill="#3db54a"/><circle cx="194.3" cy="580.3" r="1.35" fill="#3db54a"/><circle cx="187.9" cy="595.8" r="1.35" fill="#3db54a"/><circle cx="191.5" cy="590.8" r="1.35" fill="#3db54a"/><circle cx="196.1" cy="575.0" r="1.35" fill="#3db54a"/><circle cx="191.3" cy="592.9" r="1.35" fill="#3db54a"/><circle cx="208.9" cy="576.4" r="1.35" fill="#3db54a"/><circle cx="199.6" cy="597.8" r="1.35" fill="#3db54a"/><circle cx="194.9" cy="577.6" r="1.35" fill="#3db54a"/><circle cx="199.7" cy="575.7" r="1.35" fill="#3db54a"/><circle cx="192.7" cy="582.5" r="1.35" fill="#3db54a"/><circle cx="199.2" cy="587.0" r="1.35" fill="#3db54a"/><circle cx="187.9" cy="598.7" r="1.35" fill="#3db54a"/><circle cx="202.2" cy="578.9" r="1.35" fill="#3db54a"/><circle cx="193.5" cy="591.3" r="1.35" fill="#3db54a"/><circle cx="194.2" cy="577.1" r="1.35" fill="#3db54a"/><circle cx="190.1" cy="594.8" r="1.35" fill="#3db54a"/><circle cx="203.9" cy="576.6" r="1.35" fill="#3db54a"/><circle cx="194.3" cy="593.2" r="1.35" fill="#3db54a"/><circle cx="200.8" cy="577.0" r="1.35" fill="#3db54a"/><circle cx="201.1" cy="576.5" r="1.35" fill="#3db54a"/><circle cx="191.9" cy="587.9" r="1.35" fill="#3db54a"/><circle cx="198.6" cy="590.8" r="1.35" fill="#3db54a"/><circle cx="73.5" cy="591.6" r="1.35" fill="#3db54a"/><circle cx="78.0" cy="594.6" r="1.35" fill="#3db54a"/><circle cx="88.5" cy="589.3" r="1.35" fill="#3db54a"/><circle cx="89.2" cy="597.0" r="1.35" fill="#3db54a"/><circle cx="96.6" cy="598.8" r="1.35" fill="#3db54a"/><circle cx="116.2" cy="581.5" r="1.35" fill="#3db54a"/><circle cx="118.5" cy="579.6" r="1.35" fill="#3db54a"/><circle cx="122.7" cy="584.2" r="1.35" fill="#3db54a"/><circle cx="110.4" cy="592.3" r="1.35" fill="#3db54a"/><circle cx="107.0" cy="594.6" r="1.35" fill="#3db54a"/><circle cx="119.7" cy="590.0" r="1.35" fill="#3db54a"/><circle cx="104.0" cy="596.0" r="1.35" fill="#3db54a"/><circle cx="112.0" cy="588.0" r="1.35" fill="#3db54a"/><circle cx="125.0" cy="578.0" r="1.35" fill="#3db54a"/><circle cx="129.0" cy="576.0" r="1.35" fill="#3db54a"/><circle cx="240.0" cy="577.0" r="1.35" fill="#3db54a"/><circle cx="232.6" cy="580.2" r="1.35" fill="#3db54a"/><circle cx="226.2" cy="598.3" r="1.35" fill="#3db54a"/><circle cx="216.2" cy="586.0" r="1.35" fill="#3db54a"/><circle cx="212.5" cy="589.4" r="1.35" fill="#3db54a"/><circle cx="211.6" cy="579.3" r="1.35" fill="#3db54a"/><circle cx="197.9" cy="598.0" r="1.35" fill="#3db54a"/><circle cx="193.7" cy="598.9" r="1.35" fill="#3db54a"/><circle cx="196.7" cy="578.2" r="1.35" fill="#3db54a"/><circle cx="202.6" cy="576.6" r="1.35" fill="#3db54a"/><circle cx="206.8" cy="579.8" r="1.35" fill="#3db54a"/><circle cx="211.6" cy="578.8" r="1.35" fill="#3db54a"/><circle cx="208.4" cy="585.1" r="1.35" fill="#3db54a"/><circle cx="201.5" cy="585.1" r="1.35" fill="#3db54a"/><circle cx="215.8" cy="586.2" r="1.35" fill="#3db54a"/><circle cx="212.1" cy="589.1" r="1.35" fill="#3db54a"/><circle cx="205.7" cy="589.9" r="1.35" fill="#3db54a"/><circle cx="198.9" cy="590.9" r="1.35" fill="#3db54a"/><circle cx="200.4" cy="594.1" r="1.35" fill="#3db54a"/><circle cx="197.8" cy="596.7" r="1.35" fill="#3db54a"/><circle cx="193.6" cy="576.6" r="1.35" fill="#3db54a"/><circle cx="186.7" cy="603.1" r="1.35" fill="#3db54a"/><circle cx="194.0" cy="582.0" r="1.35" fill="#3db54a"/><circle cx="195.0" cy="587.0" r="1.35" fill="#3db54a"/><circle cx="192.0" cy="592.0" r="1.35" fill="#3db54a"/><circle cx="175.1" cy="562.5" r="1.35" fill="#d6304e"/><circle cx="174.4" cy="554.0" r="1.35" fill="#d6304e"/><circle cx="170.9" cy="554.7" r="1.35" fill="#d6304e"/><circle cx="176.0" cy="554.8" r="1.35" fill="#d6304e"/><circle cx="181.5" cy="562.3" r="1.35" fill="#d6304e"/><circle cx="170.6" cy="546.2" r="1.35" fill="#d6304e"/><circle cx="189.3" cy="563.6" r="1.35" fill="#d6304e"/><circle cx="180.7" cy="553.0" r="1.35" fill="#d6304e"/><circle cx="192.4" cy="569.1" r="1.35" fill="#d6304e"/><circle cx="193.0" cy="569.6" r="1.35" fill="#d6304e"/><circle cx="187.7" cy="562.4" r="1.35" fill="#d6304e"/><circle cx="192.9" cy="569.7" r="1.35" fill="#d6304e"/><circle cx="178.7" cy="553.9" r="1.35" fill="#d6304e"/><circle cx="172.2" cy="566.7" r="1.35" fill="#d6304e"/><circle cx="174.8" cy="552.3" r="1.35" fill="#d6304e"/><circle cx="193.3" cy="569.7" r="1.35" fill="#d6304e"/><circle cx="175.4" cy="557.0" r="1.35" fill="#d6304e"/><circle cx="180.3" cy="563.4" r="1.35" fill="#d6304e"/><circle cx="175.0" cy="572.2" r="1.35" fill="#d6304e"/><circle cx="183.0" cy="572.5" r="1.35" fill="#d6304e"/><circle cx="176.1" cy="550.3" r="1.35" fill="#d6304e"/><circle cx="178.0" cy="562.2" r="1.35" fill="#d6304e"/><circle cx="173.6" cy="547.0" r="1.35" fill="#d6304e"/><circle cx="175.0" cy="559.8" r="1.35" fill="#d6304e"/><circle cx="170.8" cy="555.3" r="1.35" fill="#d6304e"/><circle cx="174.3" cy="560.7" r="1.35" fill="#d6304e"/><circle cx="189.9" cy="569.7" r="1.35" fill="#d6304e"/><circle cx="194.7" cy="569.4" r="1.35" fill="#d6304e"/><circle cx="198.9" cy="573.1" r="1.35" fill="#d6304e"/><circle cx="186.1" cy="571.2" r="1.35" fill="#d6304e"/><circle cx="195.2" cy="571.3" r="1.35" fill="#d6304e"/><circle cx="192.2" cy="570.2" r="1.35" fill="#d6304e"/><circle cx="181.6" cy="568.9" r="1.35" fill="#d6304e"/><circle cx="192.7" cy="572.1" r="1.35" fill="#d6304e"/><circle cx="187.5" cy="562.0" r="1.35" fill="#d6304e"/><circle cx="170.7" cy="556.2" r="1.35" fill="#d6304e"/><circle cx="171.7" cy="560.2" r="1.35" fill="#d6304e"/><circle cx="185.6" cy="568.0" r="1.35" fill="#d6304e"/><circle cx="181.2" cy="569.9" r="1.35" fill="#d6304e"/><circle cx="189.8" cy="568.0" r="1.35" fill="#d6304e"/><circle cx="186.7" cy="570.2" r="1.35" fill="#d6304e"/><circle cx="174.7" cy="556.8" r="1.35" fill="#d6304e"/><circle cx="189.1" cy="570.6" r="1.35" fill="#d6304e"/><circle cx="198.5" cy="571.5" r="1.35" fill="#d6304e"/><circle cx="180.8" cy="568.2" r="1.35" fill="#d6304e"/><circle cx="185.2" cy="558.2" r="1.35" fill="#d6304e"/><circle cx="172.5" cy="566.5" r="1.35" fill="#d6304e"/><circle cx="176.0" cy="549.0" r="1.35" fill="#d6304e"/><circle cx="171.1" cy="564.2" r="1.35" fill="#d6304e"/><circle cx="187.8" cy="563.2" r="1.35" fill="#d6304e"/><circle cx="182.0" cy="563.5" r="1.35" fill="#d6304e"/><circle cx="172.0" cy="549.8" r="1.35" fill="#d6304e"/><circle cx="198.6" cy="567.7" r="1.35" fill="#d6304e"/><circle cx="180.2" cy="572.3" r="1.35" fill="#d6304e"/><circle cx="180.0" cy="558.4" r="1.35" fill="#d6304e"/><circle cx="197.3" cy="572.4" r="1.35" fill="#d6304e"/><circle cx="172.4" cy="571.7" r="1.35" fill="#d6304e"/><circle cx="172.2" cy="558.8" r="1.35" fill="#d6304e"/><circle cx="195.0" cy="567.5" r="1.35" fill="#d6304e"/><circle cx="195.4" cy="567.9" r="1.35" fill="#d6304e"/><circle cx="170.5" cy="557.1" r="1.35" fill="#d6304e"/><circle cx="175.9" cy="559.0" r="1.35" fill="#d6304e"/><circle cx="176.3" cy="547.1" r="1.35" fill="#d6304e"/><circle cx="189.9" cy="561.6" r="1.35" fill="#d6304e"/><circle cx="196.6" cy="572.4" r="1.35" fill="#d6304e"/><circle cx="175.6" cy="558.9" r="1.35" fill="#d6304e"/><circle cx="199.5" cy="571.6" r="1.35" fill="#d6304e"/><circle cx="179.3" cy="554.8" r="1.35" fill="#d6304e"/><circle cx="171.7" cy="552.3" r="1.35" fill="#d6304e"/><circle cx="196.9" cy="571.4" r="1.35" fill="#d6304e"/><circle cx="181.8" cy="562.9" r="1.35" fill="#d6304e"/><circle cx="197.7" cy="571.9" r="1.35" fill="#d6304e"/><circle cx="185.7" cy="572.0" r="1.35" fill="#d6304e"/><circle cx="183.0" cy="555.2" r="1.35" fill="#d6304e"/><circle cx="189.3" cy="570.3" r="1.35" fill="#d6304e"/><circle cx="186.2" cy="561.0" r="1.35" fill="#d6304e"/><circle cx="196.6" cy="572.1" r="1.35" fill="#d6304e"/><circle cx="177.0" cy="567.4" r="1.35" fill="#d6304e"/><circle cx="198.5" cy="572.7" r="1.35" fill="#d6304e"/><circle cx="175.9" cy="558.3" r="1.35" fill="#d6304e"/><circle cx="172.9" cy="553.7" r="1.35" fill="#d6304e"/><circle cx="195.8" cy="569.1" r="1.35" fill="#d6304e"/><circle cx="195.8" cy="568.3" r="1.35" fill="#d6304e"/><circle cx="172.3" cy="550.1" r="1.35" fill="#d6304e"/><circle cx="177.0" cy="557.7" r="1.35" fill="#d6304e"/><circle cx="174.9" cy="570.1" r="1.35" fill="#d6304e"/><circle cx="189.9" cy="567.1" r="1.35" fill="#d6304e"/><circle cx="182.2" cy="561.7" r="1.35" fill="#d6304e"/><circle cx="171.1" cy="572.1" r="1.35" fill="#d6304e"/><circle cx="172.1" cy="562.8" r="1.35" fill="#d6304e"/><circle cx="194.1" cy="569.6" r="1.35" fill="#d6304e"/><circle cx="174.6" cy="559.5" r="1.35" fill="#d6304e"/><circle cx="197.6" cy="572.3" r="1.35" fill="#d6304e"/><circle cx="170.6" cy="565.6" r="1.35" fill="#d6304e"/><circle cx="195.4" cy="570.8" r="1.35" fill="#d6304e"/><circle cx="170.5" cy="570.9" r="1.35" fill="#d6304e"/><circle cx="192.7" cy="572.7" r="1.35" fill="#d6304e"/><circle cx="174.6" cy="554.1" r="1.35" fill="#d6304e"/><circle cx="182.2" cy="571.9" r="1.35" fill="#d6304e"/><circle cx="188.9" cy="570.0" r="1.35" fill="#d6304e"/><circle cx="180.2" cy="553.6" r="1.35" fill="#d6304e"/><circle cx="191.1" cy="572.4" r="1.35" fill="#d6304e"/><circle cx="186.2" cy="561.9" r="1.35" fill="#d6304e"/><circle cx="174.7" cy="565.2" r="1.35" fill="#d6304e"/><circle cx="171.9" cy="561.2" r="1.35" fill="#d6304e"/><circle cx="184.1" cy="561.1" r="1.35" fill="#d6304e"/><circle cx="184.7" cy="564.5" r="1.35" fill="#d6304e"/><circle cx="180.3" cy="564.8" r="1.35" fill="#d6304e"/><circle cx="194.9" cy="568.6" r="1.35" fill="#d6304e"/><circle cx="174.6" cy="564.6" r="1.35" fill="#d6304e"/><circle cx="176.1" cy="562.8" r="1.35" fill="#d6304e"/><circle cx="187.2" cy="563.6" r="1.35" fill="#d6304e"/><circle cx="187.0" cy="560.3" r="1.35" fill="#d6304e"/><circle cx="170.8" cy="557.0" r="1.35" fill="#d6304e"/><circle cx="187.5" cy="570.8" r="1.35" fill="#d6304e"/><circle cx="189.5" cy="564.2" r="1.35" fill="#d6304e"/><circle cx="198.3" cy="572.8" r="1.35" fill="#d6304e"/><circle cx="174.2" cy="567.4" r="1.35" fill="#d6304e"/><circle cx="175.7" cy="559.3" r="1.35" fill="#d6304e"/><circle cx="173.3" cy="558.7" r="1.35" fill="#d6304e"/><circle cx="206.3" cy="555.2" r="1.35" fill="#d6304e"/><circle cx="189.7" cy="570.0" r="1.35" fill="#d6304e"/><circle cx="191.8" cy="551.1" r="1.35" fill="#d6304e"/><circle cx="189.5" cy="572.7" r="1.35" fill="#d6304e"/><circle cx="186.9" cy="570.0" r="1.35" fill="#d6304e"/><circle cx="213.7" cy="560.1" r="1.35" fill="#d6304e"/><circle cx="208.4" cy="557.3" r="1.35" fill="#d6304e"/><circle cx="195.5" cy="571.8" r="1.35" fill="#d6304e"/><circle cx="214.9" cy="564.8" r="1.35" fill="#d6304e"/><circle cx="186.0" cy="566.4" r="1.35" fill="#d6304e"/><circle cx="197.1" cy="570.2" r="1.35" fill="#d6304e"/><circle cx="195.6" cy="571.9" r="1.35" fill="#d6304e"/><circle cx="185.1" cy="571.0" r="1.35" fill="#d6304e"/><circle cx="196.2" cy="554.3" r="1.35" fill="#d6304e"/><circle cx="189.0" cy="553.0" r="1.35" fill="#d6304e"/><circle cx="191.6" cy="570.4" r="1.35" fill="#d6304e"/><circle cx="211.3" cy="562.6" r="1.35" fill="#d6304e"/><circle cx="198.8" cy="572.7" r="1.35" fill="#d6304e"/><circle cx="200.2" cy="570.2" r="1.35" fill="#d6304e"/><circle cx="214.4" cy="571.7" r="1.35" fill="#d6304e"/><circle cx="196.7" cy="559.4" r="1.35" fill="#d6304e"/><circle cx="186.0" cy="569.8" r="1.35" fill="#d6304e"/><circle cx="211.0" cy="564.3" r="1.35" fill="#d6304e"/><circle cx="186.3" cy="572.8" r="1.35" fill="#d6304e"/><circle cx="187.0" cy="557.8" r="1.35" fill="#d6304e"/><circle cx="193.2" cy="564.7" r="1.35" fill="#d6304e"/><circle cx="213.8" cy="570.5" r="1.35" fill="#d6304e"/><circle cx="193.7" cy="554.0" r="1.35" fill="#d6304e"/><circle cx="204.7" cy="571.2" r="1.35" fill="#d6304e"/><circle cx="207.9" cy="570.7" r="1.35" fill="#d6304e"/><circle cx="193.8" cy="573.0" r="1.35" fill="#d6304e"/><circle cx="209.2" cy="558.1" r="1.35" fill="#d6304e"/><circle cx="205.3" cy="555.8" r="1.35" fill="#d6304e"/><circle cx="185.8" cy="571.4" r="1.35" fill="#d6304e"/><circle cx="200.2" cy="554.2" r="1.35" fill="#d6304e"/><circle cx="215.5" cy="570.1" r="1.35" fill="#d6304e"/><circle cx="193.0" cy="569.6" r="1.35" fill="#d6304e"/><circle cx="200.8" cy="557.2" r="1.35" fill="#d6304e"/><circle cx="190.9" cy="563.3" r="1.35" fill="#d6304e"/><circle cx="208.6" cy="562.6" r="1.35" fill="#d6304e"/><circle cx="102.5" cy="481.8" r="1.35" fill="#d6304e"/><circle cx="135.0" cy="520.8" r="1.35" fill="#d6304e"/><circle cx="134.5" cy="528.0" r="1.35" fill="#d6304e"/><circle cx="130.2" cy="544.5" r="1.35" fill="#d6304e"/><circle cx="113.4" cy="547.0" r="1.35" fill="#d6304e"/><circle cx="120.7" cy="522.1" r="1.35" fill="#d6304e"/><circle cx="125.8" cy="553.6" r="1.35" fill="#d6304e"/><circle cx="119.4" cy="560.2" r="1.35" fill="#d6304e"/><circle cx="126.7" cy="558.8" r="1.35" fill="#d6304e"/><circle cx="132.0" cy="557.0" r="1.35" fill="#d6304e"/><circle cx="137.0" cy="564.4" r="1.35" fill="#d6304e"/><circle cx="132.0" cy="566.0" r="1.35" fill="#d6304e"/><circle cx="130.5" cy="568.9" r="1.35" fill="#d6304e"/><circle cx="89.5" cy="567.5" r="1.35" fill="#d6304e"/><circle cx="126.1" cy="553.7" r="1.35" fill="#d6304e"/><circle cx="119.7" cy="560.3" r="1.35" fill="#d6304e"/><circle cx="127.4" cy="558.1" r="1.35" fill="#d6304e"/><circle cx="132.8" cy="556.8" r="1.35" fill="#d6304e"/><circle cx="137.2" cy="564.5" r="1.35" fill="#d6304e"/><circle cx="138.6" cy="567.9" r="1.35" fill="#d6304e"/><circle cx="140.6" cy="568.9" r="1.35" fill="#d6304e"/><circle cx="137.2" cy="570.6" r="1.35" fill="#d6304e"/><circle cx="142.6" cy="570.9" r="1.35" fill="#d6304e"/><circle cx="145.0" cy="568.2" r="1.35" fill="#d6304e"/><circle cx="136.5" cy="572.3" r="1.35" fill="#d6304e"/><circle cx="130.1" cy="545.0" r="1.35" fill="#d6304e"/><circle cx="197.8" cy="502.5" r="1.35" fill="#d6304e"/><circle cx="177.7" cy="512.7" r="1.35" fill="#d6304e"/><circle cx="184.6" cy="512.7" r="1.35" fill="#d6304e"/><circle cx="195.9" cy="512.5" r="1.35" fill="#d6304e"/><circle cx="194.4" cy="514.8" r="1.35" fill="#d6304e"/><circle cx="192.5" cy="518.8" r="1.35" fill="#d6304e"/><circle cx="212.9" cy="516.3" r="1.35" fill="#d6304e"/><circle cx="202.1" cy="519.0" r="1.35" fill="#d6304e"/><circle cx="194.8" cy="526.7" r="1.35" fill="#d6304e"/><circle cx="215.7" cy="528.4" r="1.35" fill="#d6304e"/><circle cx="186.9" cy="532.9" r="1.35" fill="#d6304e"/><circle cx="207.1" cy="537.1" r="1.35" fill="#d6304e"/><circle cx="177.1" cy="538.2" r="1.35" fill="#d6304e"/><circle cx="216.0" cy="528.2" r="1.35" fill="#d6304e"/><circle cx="207.1" cy="537.1" r="1.35" fill="#d6304e"/><circle cx="229.8" cy="537.1" r="1.35" fill="#d6304e"/><circle cx="216.0" cy="543.2" r="1.35" fill="#d6304e"/><circle cx="210.8" cy="550.1" r="1.35" fill="#d6304e"/><circle cx="209.6" cy="554.4" r="1.35" fill="#d6304e"/><circle cx="224.0" cy="553.6" r="1.35" fill="#d6304e"/><circle cx="240.2" cy="551.3" r="1.35" fill="#d6304e"/><circle cx="231.0" cy="557.3" r="1.35" fill="#d6304e"/><circle cx="224.0" cy="558.4" r="1.35" fill="#d6304e"/><circle cx="225.8" cy="561.9" r="1.35" fill="#d6304e"/><circle cx="225.2" cy="566.0" r="1.35" fill="#d6304e"/><circle cx="221.1" cy="568.3" r="1.35" fill="#d6304e"/><circle cx="220.0" cy="564.2" r="1.35" fill="#d6304e"/><circle cx="211.3" cy="570.0" r="1.35" fill="#d6304e"/><circle cx="216.5" cy="571.1" r="1.35" fill="#d6304e"/><circle cx="263.8" cy="550.6" r="1.35" fill="#d6304e"/><circle cx="265.3" cy="570.6" r="1.35" fill="#d6304e"/><circle cx="187.0" cy="532.9" r="1.35" fill="#d6304e"/><circle cx="187.3" cy="537.3" r="1.35" fill="#d6304e"/><circle cx="195.4" cy="536.9" r="1.35" fill="#d6304e"/><circle cx="186.6" cy="541.3" r="1.35" fill="#d6304e"/><circle cx="193.2" cy="540.2" r="1.35" fill="#d6304e"/><circle cx="187.0" cy="543.9" r="1.35" fill="#d6304e"/><circle cx="190.6" cy="543.5" r="1.35" fill="#d6304e"/><circle cx="192.8" cy="545.3" r="1.35" fill="#d6304e"/><circle cx="177.1" cy="538.4" r="1.35" fill="#d6304e"/><circle cx="175.3" cy="545.3" r="1.35" fill="#d6304e"/><circle cx="179.3" cy="544.2" r="1.35" fill="#d6304e"/><circle cx="184.8" cy="550.1" r="1.35" fill="#d6304e"/><circle cx="180.8" cy="551.2" r="1.35" fill="#d6304e"/><circle cx="172.4" cy="550.8" r="1.35" fill="#d6304e"/><circle cx="186.6" cy="553.4" r="1.35" fill="#d6304e"/><circle cx="192.1" cy="549.3" r="1.35" fill="#d6304e"/><circle cx="195.4" cy="550.1" r="1.35" fill="#d6304e"/><circle cx="189.2" cy="556.3" r="1.35" fill="#d6304e"/><circle cx="171.3" cy="555.9" r="1.35" fill="#d6304e"/><circle cx="175.3" cy="558.1" r="1.35" fill="#d6304e"/><circle cx="201.2" cy="543.5" r="1.35" fill="#d6304e"/><circle cx="201.7" cy="543.6" r="1.35" fill="#d6304e"/><circle cx="204.2" cy="548.5" r="1.35" fill="#d6304e"/><circle cx="211.1" cy="550.2" r="1.35" fill="#d6304e"/><circle cx="209.4" cy="554.2" r="1.35" fill="#d6304e"/><circle cx="180.0" cy="551.3" r="1.35" fill="#d6304e"/><circle cx="184.8" cy="550.5" r="1.35" fill="#d6304e"/><circle cx="205.0" cy="560.0" r="1.35" fill="#d6304e"/><circle cx="203.0" cy="567.0" r="1.35" fill="#d6304e"/><circle cx="214.0" cy="560.0" r="1.35" fill="#d6304e"/><circle cx="218.0" cy="566.0" r="1.35" fill="#d6304e"/><circle cx="222.0" cy="572.0" r="1.35" fill="#d6304e"/><circle cx="200.0" cy="571.0" r="1.35" fill="#d6304e"/><circle cx="207.0" cy="572.0" r="1.35" fill="#d6304e"/><circle cx="213.0" cy="567.0" r="1.35" fill="#d6304e"/><circle cx="146.5" cy="576.0" r="1.35" fill="#8c5ea6"/><circle cx="165.0" cy="578.0" r="1.35" fill="#8c5ea6"/><circle cx="168.0" cy="576.0" r="1.35" fill="#8c5ea6"/>
<line x1="145.90" y1="452.50" x2="145.90" y2="609.50" stroke="#1a1a1a" stroke-width="1.3" stroke-dasharray="2.3,1.35"/>
<line x1="170.00" y1="452.50" x2="170.00" y2="609.50" stroke="#1a1a1a" stroke-width="1.3" stroke-dasharray="2.3,1.35"/>
<line x1="33.30" y1="573.40" x2="289.00" y2="573.40" stroke="#1a1a1a" stroke-width="1.15" stroke-dasharray="2.3,1.35"/>
<circle cx="145.8" cy="552.3" r="1.5" fill="#2d65a8"/>
<circle cx="145.8" cy="556.4" r="1.5" fill="#2d65a8"/>
<circle cx="169.6" cy="568.3" r="1.5" fill="#2d65a8"/>
<circle cx="146" cy="569.5" r="1.5" fill="#2d65a8"/>
<line x1="33.60" y1="452.50" x2="33.60" y2="612.60" stroke="#1a1a1a" stroke-width="1.3" />
<line x1="32.80" y1="612.00" x2="288.00" y2="612.00" stroke="#1a1a1a" stroke-width="1.3" />
<line x1="30.00" y1="604.50" x2="33.60" y2="604.50" stroke="#1a1a1a" stroke-width="1.1" />
<text x="27.50" y="607.09" font-size="7.2" text-anchor="end" fill="#231f20" font-weight="normal" font-style="normal" >0</text>
<line x1="30.00" y1="556.10" x2="33.60" y2="556.10" stroke="#1a1a1a" stroke-width="1.1" />
<text x="27.50" y="558.69" font-size="7.2" text-anchor="end" fill="#231f20" font-weight="normal" font-style="normal" >2</text>
<line x1="30.00" y1="507.70" x2="33.60" y2="507.70" stroke="#1a1a1a" stroke-width="1.1" />
<text x="27.50" y="510.29" font-size="7.2" text-anchor="end" fill="#231f20" font-weight="normal" font-style="normal" >4</text>
<line x1="30.00" y1="459.30" x2="33.60" y2="459.30" stroke="#1a1a1a" stroke-width="1.1" />
<text x="27.50" y="461.89" font-size="7.2" text-anchor="end" fill="#231f20" font-weight="normal" font-style="normal" >6</text>
<line x1="36.70" y1="612.00" x2="36.70" y2="615.00" stroke="#1a1a1a" stroke-width="1.2" />
<text x="34.30" y="623.56" font-size="7.1" text-anchor="middle" fill="#231f20" font-weight="normal" font-style="normal" >−10</text>
<line x1="97.20" y1="612.00" x2="97.20" y2="615.00" stroke="#1a1a1a" stroke-width="1.2" />
<text x="95.10" y="623.56" font-size="7.1" text-anchor="middle" fill="#231f20" font-weight="normal" font-style="normal" >−5</text>
<line x1="157.70" y1="612.00" x2="157.70" y2="615.00" stroke="#1a1a1a" stroke-width="1.2" />
<text x="157.70" y="623.56" font-size="7.1" text-anchor="middle" fill="#231f20" font-weight="normal" font-style="normal" >0</text>
<line x1="218.20" y1="612.00" x2="218.20" y2="615.00" stroke="#1a1a1a" stroke-width="1.2" />
<text x="218.20" y="623.56" font-size="7.1" text-anchor="middle" fill="#231f20" font-weight="normal" font-style="normal" >5</text>
<line x1="278.70" y1="612.00" x2="278.70" y2="615.00" stroke="#1a1a1a" stroke-width="1.2" />
<text x="278.70" y="623.56" font-size="7.1" text-anchor="middle" fill="#231f20" font-weight="normal" font-style="normal" >10</text>
<g transform="translate(161,632.8) scale(0.72,1)"><text x="0" y="3.9" font-size="10.8" text-anchor="middle" fill="#231f20" stroke="#231f20" stroke-width="0.38">Log<tspan font-size="7.8" dy="2.3">2</tspan><tspan dy="-2.3"> fold change</tspan></text></g>
<g transform="translate(13,533.4) rotate(-90) scale(0.725,1)"><text x="0" y="3.9" font-size="11.0" text-anchor="middle" fill="#231f20" stroke="#231f20" stroke-width="0.38">—Log<tspan font-size="7.8" dy="2.3">10</tspan><tspan dy="-2.3"> adjusted  </tspan><tspan font-style="italic">P</tspan></text></g>
<circle cx="62" cy="644.5" r="1.55" fill="#8c5ea6"/>
<text x="66.30" y="646.95" font-size="6.9" text-anchor="start" fill="#231f20" font-weight="normal" font-style="normal" >NS</text>
<circle cx="83.8" cy="644.5" r="1.55" fill="#3db54a"/>
<text x="88.00" y="646.95" font-size="6.9" text-anchor="start" fill="#231f20" font-weight="normal" font-style="normal" >Log<tspan font-size="4.8" dy="1.5">2</tspan><tspan dy="-1.5"> FC</tspan></text>
<circle cx="121.3" cy="644.5" r="1.55" fill="#2d65a8"/>
<text x="125.80" y="646.95" font-size="6.9" text-anchor="start" fill="#231f20" font-weight="normal" font-style="normal" >p-value</text>
<circle cx="154.3" cy="644.5" r="1.55" fill="#c8102e"/>
<text x="158.80" y="646.95" font-size="6.9" text-anchor="start" fill="#231f20" font-weight="normal" font-style="normal" >p−value and log<tspan font-size="4.8" dy="1.5">2</tspan><tspan dy="-1.5"> FC</tspan></text>
<g transform="translate(103.00,485.50) scale(0.68,1)"><text x="0" y="1.76" font-size="4.9" fill="#1e1e1e" stroke="#1e1e1e" stroke-width="0.18">LINC01638</text></g>
<g transform="translate(137.00,524.50) scale(0.68,1)"><text x="0" y="1.76" font-size="4.9" fill="#1e1e1e" stroke="#1e1e1e" stroke-width="0.18">SUB1P</text></g>
<g transform="translate(136.00,532.00) scale(0.68,1)"><text x="0" y="1.76" font-size="4.9" fill="#1e1e1e" stroke="#1e1e1e" stroke-width="0.18">RERG</text></g>
<g transform="translate(130.20,548.20) scale(0.68,1)"><text x="0" y="1.76" font-size="4.9" fill="#1e1e1e" stroke="#1e1e1e" stroke-width="0.18">GCSR</text></g>
<g transform="translate(114.00,551.00) scale(0.68,1)"><text x="0" y="1.76" font-size="4.9" fill="#1e1e1e" stroke="#1e1e1e" stroke-width="0.18">MT1G</text></g>
<g transform="translate(128.00,557.50) scale(0.68,1)"><text x="0" y="1.76" font-size="4.9" fill="#1e1e1e" stroke="#1e1e1e" stroke-width="0.18">ADAMTS2</text></g>
<g transform="translate(127.00,562.00) scale(0.68,1)"><text x="0" y="1.76" font-size="4.9" fill="#1e1e1e" stroke="#1e1e1e" stroke-width="0.18">FOS</text></g>
<g transform="translate(92.00,570.50) scale(0.68,1)"><text x="0" y="1.76" font-size="4.9" fill="#1e1e1e" stroke="#1e1e1e" stroke-width="0.18">IGLL5</text></g>
<g transform="translate(137.00,566.50) scale(0.68,1)"><text x="0" y="1.76" font-size="4.9" fill="#1e1e1e" stroke="#1e1e1e" stroke-width="0.18">C1QTNF</text></g>
<g transform="translate(138.00,571.00) scale(0.68,1)"><text x="0" y="1.76" font-size="4.9" fill="#1e1e1e" stroke="#1e1e1e" stroke-width="0.18">SLC6A</text></g>
<g transform="translate(138.00,576.00) scale(0.68,1)"><text x="0" y="1.76" font-size="4.9" fill="#1e1e1e" stroke="#1e1e1e" stroke-width="0.18">AC00854</text></g>
<g transform="translate(198.30,506.80) scale(0.68,1)"><text x="0" y="1.76" font-size="4.9" fill="#1e1e1e" stroke="#1e1e1e" stroke-width="0.18">CLEC4E</text></g>
<g transform="translate(178.00,516.50) scale(0.68,1)"><text x="0" y="1.76" font-size="4.9" fill="#1e1e1e" stroke="#1e1e1e" stroke-width="0.18">NDC80</text></g>
<g transform="translate(196.00,517.00) scale(0.68,1)"><text x="0" y="1.76" font-size="4.9" fill="#1e1e1e" stroke="#1e1e1e" stroke-width="0.18">CLEC12A</text></g>
<g transform="translate(203.00,521.80) scale(0.68,1)"><text x="0" y="1.76" font-size="4.9" fill="#1e1e1e" stroke="#1e1e1e" stroke-width="0.18">PPARGC1</text></g>
<g transform="translate(195.00,530.50) scale(0.68,1)"><text x="0" y="1.76" font-size="4.9" fill="#1e1e1e" stroke="#1e1e1e" stroke-width="0.18">ADORA1</text></g>
<g transform="translate(207.00,540.30) scale(0.68,1)"><text x="0" y="1.76" font-size="4.9" fill="#1e1e1e" stroke="#1e1e1e" stroke-width="0.18">COL1A</text></g>
<g transform="translate(230.00,541.20) scale(0.68,1)"><text x="0" y="1.76" font-size="4.9" fill="#1e1e1e" stroke="#1e1e1e" stroke-width="0.18">S100A7A</text></g>
<g transform="translate(216.00,547.30) scale(0.68,1)"><text x="0" y="1.76" font-size="4.9" fill="#1e1e1e" stroke="#1e1e1e" stroke-width="0.18">MMP1</text></g>
<g transform="translate(212.00,553.20) scale(0.68,1)"><text x="0" y="1.76" font-size="4.9" fill="#1e1e1e" stroke="#1e1e1e" stroke-width="0.18">CAMP</text></g>
<g transform="translate(240.50,555.80) scale(0.68,1)"><text x="0" y="1.76" font-size="4.9" fill="#1e1e1e" stroke="#1e1e1e" stroke-width="0.18">SERPINB</text></g>
<g transform="translate(231.00,561.00) scale(0.68,1)"><text x="0" y="1.76" font-size="4.9" fill="#1e1e1e" stroke="#1e1e1e" stroke-width="0.18">LINC01702</text></g>
<g transform="translate(225.00,565.60) scale(0.68,1)"><text x="0" y="1.76" font-size="4.9" fill="#1e1e1e" stroke="#1e1e1e" stroke-width="0.18">HMGB1P17</text></g>
<g transform="translate(225.00,570.30) scale(0.68,1)"><text x="0" y="1.76" font-size="4.9" fill="#1e1e1e" stroke="#1e1e1e" stroke-width="0.18">CLCA4P</text></g>
<g transform="translate(265.00,555.00) scale(0.68,1)"><text x="0" y="1.76" font-size="4.9" fill="#1e1e1e" stroke="#1e1e1e" stroke-width="0.18">HR8R</text></g>
<g transform="translate(172.50,554.60) scale(0.68,1)"><text x="0" y="1.76" font-size="4.9" fill="#1e1e1e" stroke="#1e1e1e" stroke-width="0.18">PRM1</text></g>
<g transform="translate(175.00,561.50) scale(0.68,1)"><text x="0" y="1.76" font-size="4.9" fill="#1e1e1e" stroke="#1e1e1e" stroke-width="0.18">CCNA1</text></g>
<g transform="translate(172.00,566.00) scale(0.68,1)"><text x="0" y="1.76" font-size="4.9" fill="#1e1e1e" stroke="#1e1e1e" stroke-width="0.18">MUC16</text></g>
<g transform="translate(190.00,566.00) scale(0.68,1)"><text x="0" y="1.76" font-size="4.9" fill="#1e1e1e" stroke="#1e1e1e" stroke-width="0.18">IGFL2</text></g>
<g transform="translate(182.00,570.00) scale(0.68,1)"><text x="0" y="1.76" font-size="4.9" fill="#1e1e1e" stroke="#1e1e1e" stroke-width="0.18">SERPB4</text></g>
<g transform="translate(187.00,537.00) scale(0.68,1)"><text x="0" y="1.76" font-size="4.9" fill="#1e1e1e" stroke="#1e1e1e" stroke-width="0.18">S100A8</text></g>
<g transform="translate(187.00,541.00) scale(0.68,1)"><text x="0" y="1.76" font-size="4.9" fill="#1e1e1e" stroke="#1e1e1e" stroke-width="0.18">S100A9</text></g>
<g transform="translate(187.00,545.50) scale(0.68,1)"><text x="0" y="1.76" font-size="4.9" fill="#1e1e1e" stroke="#1e1e1e" stroke-width="0.18">IL1B</text></g>
<g transform="translate(176.00,576.50) scale(0.68,1)"><text x="0" y="1.76" font-size="4.9" fill="#1e1e1e" stroke="#1e1e1e" stroke-width="0.18">SPRR2F</text></g>
<g transform="translate(198.00,576.50) scale(0.68,1)"><text x="0" y="1.76" font-size="4.9" fill="#1e1e1e" stroke="#1e1e1e" stroke-width="0.18">IL36G</text></g>
<g transform="translate(222.00,576.50) scale(0.68,1)"><text x="0" y="1.76" font-size="4.9" fill="#1e1e1e" stroke="#1e1e1e" stroke-width="0.18">KRT6C</text></g>
<rect x="170.2" y="527.1" width="15.6" height="9.3" rx="1.5" fill="#fff" fill-opacity="0.85" stroke="#222" stroke-width="0.85"/>
<g transform="translate(178.00,531.75) scale(0.72,1)"><text x="0" y="1.80" font-size="5.0" text-anchor="middle" fill="#1e1e1e" stroke="#1e1e1e" stroke-width="0.18">IL10</text></g>
<rect x="195.2" y="520.6" width="16.1" height="8.9" rx="1.5" fill="#fff" fill-opacity="0.85" stroke="#222" stroke-width="0.85"/>
<g transform="translate(203.25,525.05) scale(0.72,1)"><text x="0" y="1.80" font-size="5.0" text-anchor="middle" fill="#1e1e1e" stroke="#1e1e1e" stroke-width="0.18">PLAU</text></g>
<rect x="210.9" y="527.1" width="24.7" height="8.5" rx="1.5" fill="#fff" fill-opacity="0.85" stroke="#222" stroke-width="0.85"/>
<g transform="translate(223.25,531.35) scale(0.72,1)"><text x="0" y="1.80" font-size="5.0" text-anchor="middle" fill="#1e1e1e" stroke="#1e1e1e" stroke-width="0.18">CD177</text></g>
<rect x="225.5" y="547.5" width="19.3" height="7.7" rx="1.5" fill="#fff" fill-opacity="0.85" stroke="#222" stroke-width="0.85"/>
<g transform="translate(235.15,551.35) scale(0.72,1)"><text x="0" y="1.80" font-size="5.0" text-anchor="middle" fill="#1e1e1e" stroke="#1e1e1e" stroke-width="0.18">TREM1</text></g>
<rect x="199.6" y="557.3" width="18.4" height="7.9" rx="1.5" fill="#fff" fill-opacity="0.85" stroke="#222" stroke-width="0.85"/>
<g transform="translate(208.80,561.25) scale(0.72,1)"><text x="0" y="1.80" font-size="5.0" text-anchor="middle" fill="#1e1e1e" stroke="#1e1e1e" stroke-width="0.18">CXCL8</text></g>
<rect x="260.4" y="570.9" width="24.1" height="8.2" rx="1.5" fill="#fff" fill-opacity="0.85" stroke="#222" stroke-width="0.85"/>
<g transform="translate(272.45,575.00) scale(0.72,1)"><text x="0" y="1.80" font-size="5.0" text-anchor="middle" fill="#1e1e1e" stroke="#1e1e1e" stroke-width="0.18">SAT1A9</text></g>
<circle cx="240.2" cy="551.3" r="1.35" fill="#d6304e"/>
<circle cx="216" cy="528.2" r="1.35" fill="#d6304e"/>
<circle cx="194.8" cy="526.7" r="1.35" fill="#d6304e"/>
<circle cx="265.3" cy="570.6" r="1.35" fill="#d6304e"/>
<circle cx="205" cy="561.5" r="1.35" fill="#d6304e"/>
</svg></body></html>
